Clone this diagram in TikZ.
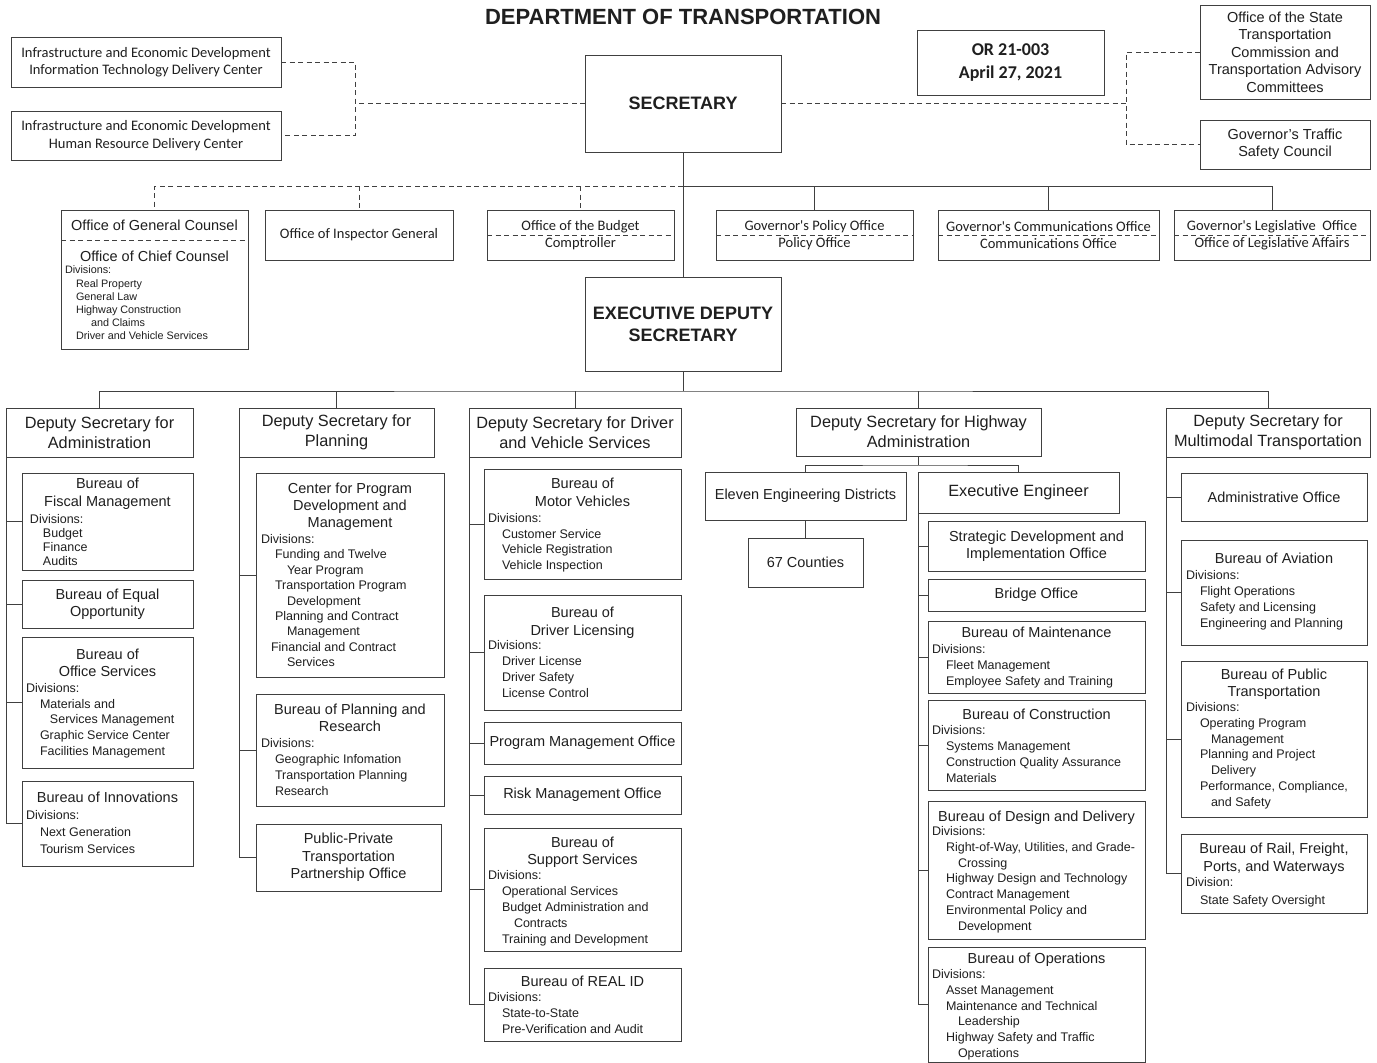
\documentclass[tikz,border=0pt]{standalone}
\usepackage{fontspec}
\setmainfont{Liberation Sans}
\newfontfamily\calib{Carlito}
\definecolor{ln}{gray}{0.25}
\definecolor{tx}{gray}{0.12}
\newcommand\fsz[2]{\fontsize{#1}{#2}\selectfont}
\newcommand\ia{\hspace*{14pt}}
\newcommand\ib{\hspace*{26pt}}
\newcommand\bx[7][]{\node[box,minimum width={#5-#3},minimum height={#6-#4},#1] (#2) at ({(#3+#5)/2},{(#4+#6)/2}) {#7};}
\begin{document}
\begin{tikzpicture}[x=1pt,y=-1pt,
  box/.style={draw=ln, line width=0.9pt, inner sep=0pt, outer sep=0pt, align=center, text=tx, font=\fsz{14.5}{17.5}},
  cal/.style={font=\calib\fsz{14.5}{17.5}},
  dep/.style={font=\fsz{16.3}{20}},
  ttl/.style={inner sep=0pt, outer sep=0pt, align=center, anchor=north, text=tx, font=\fsz{14.5}{17.5}},
  dvs/.style={inner sep=0pt, outer sep=0pt, align=left, anchor=north west, text=tx, font=\fsz{12.5}{15.7}},
  con/.style={draw=ln, line width=0.9pt},
  dsh/.style={con, dash pattern=on 5pt off 3.5pt}]
\fill[white] (0,0) rectangle (1377,1063);
\useasboundingbox (0,0) rectangle (1377,1063);

% ---------- header ----------
\node[font=\bfseries\fsz{22}{24}, text=tx, inner sep=0pt] (title) at (683,17) {DEPARTMENT OF TRANSPORTATION};
\bx[cal]{iedit}{11}{37}{281}{87}{Infrastructure and Economic Development\\Information Technology Delivery Center}
\bx[cal]{iedhr}{11}{111}{281}{160}{Infrastructure and Economic Development\\Human Resource Delivery Center}
\bx[font=\bfseries\fsz{18}{22}]{sec}{585}{55}{781}{152}{SECRETARY}
\bx[font=\calib\bfseries\fsz{18}{23}]{orb}{917}{30}{1104}{95}{OR 21-003\\April 27, 2021}
\bx{stc}{1200}{5}{1370}{99}{Office of the State\\Transportation\\Commission and\\Transportation Advisory\\Committees}
\bx[font=\fsz{14.5}{17}]{gtsc}{1200}{120}{1370}{169}{Governor's Traffic\\Safety Council}

% ---------- staff offices ----------
\bx{gc}{61}{210}{248}{349}{}
\node[ttl] (gca) at (154.5,219.6) {Office of General Counsel};
\node[ttl] (gcb) at (154.5,250.6) {Office of Chief Counsel};
\node[dvs, font=\fsz{10.8}{13.2}] (gcd) at (65,266) {Divisions:\\\hspace*{11pt}Real Property\\\hspace*{11pt}General Law\\\hspace*{11pt}Highway Construction\\\hspace*{26pt}and Claims\\\hspace*{11pt}Driver and Vehicle Services};
\bx[cal]{ig}{265}{210}{453}{260}{Office of Inspector General}
\bx[cal]{bud}{487}{210}{674}{260}{Office of the Budget\\Comptroller}
\bx[cal]{pol}{716}{210}{913}{260}{Governor's Policy Office\\Policy Office}
\bx[cal]{comm}{938}{210}{1159}{260}{Governor's Communications Office\\Communications Office}
\bx[cal]{leg}{1174}{210}{1370}{260}{Governor's Legislative\ \ Office\\Office of Legislative Affairs}

\bx[font=\bfseries\fsz{18}{22}]{eds}{585}{277}{781}{371}{EXECUTIVE DEPUTY\\SECRETARY}

% ---------- deputies ----------
\bx[dep]{dadm}{6}{408}{193}{457}{Deputy Secretary for\\Administration}
\bx[dep]{dpl}{239}{408}{434}{457}{Deputy Secretary for\\Planning}
\bx[dep]{ddv}{469}{408}{681}{457}{Deputy Secretary for Driver\\and Vehicle Services}
\bx[dep]{dhw}{796}{408}{1041}{456}{Deputy Secretary for Highway\\Administration}
\bx[dep]{dmm}{1166}{408}{1370}{457}{Deputy Secretary for\\Multimodal Transportation}

% ---------- administration ----------
\bx{fis}{22}{473}{193}{570}{}
\node[ttl, font=\fsz{14.5}{18}] (fist) at (107.5,477.6) {Bureau of\\Fiscal Management};
\node[dvs, font=\fsz{12.5}{14}] (fisd) at (30,514.4) {Divisions:\\\hspace*{13pt}Budget\\\hspace*{13pt}Finance\\\hspace*{13pt}Audits};
\bx[font=\fsz{14.5}{17}]{eqo}{22}{580}{193}{628}{Bureau of Equal\\Opportunity}
\bx{osv}{22}{637}{193}{768}{}
\node[ttl, font=\fsz{14.5}{17}] (osvt) at (107.5,648.6) {Bureau of\\Office Services};
\node[dvs, font=\fsz{12.5}{15.75}] (osvd) at (26,683.4) {Divisions:\\\ia Materials and\\\hspace*{24pt}Services Management\\\ia Graphic Service Center\\\ia Facilities Management};
\bx{inn}{22}{781}{193}{866}{}
\node[ttl] (innt) at (107.5,791.6) {Bureau of Innovations};
\node[dvs, font=\fsz{12.5}{17}] (innd) at (26,810.4) {Divisions:\\\ia Next Generation\\\ia Tourism Services};

% ---------- planning ----------
\bx{cpd}{256}{473}{444}{677}{}
\node[ttl, font=\fsz{14.5}{17}] (cpdt) at (350,482.6) {Center for Program\\Development and\\Management};
\node[dvs, font=\fsz{12.5}{15.4}] (cpdd) at (261,534.4) {Divisions:\\\ia Funding and Twelve\\\ib Year Program\\\ia Transportation Program\\\ib Development\\\ia Planning and Contract\\\ib Management\\\hspace*{10pt}Financial and Contract\\\ib Services};
\bx{bpr}{256}{694}{444}{806}{}
\node[ttl, font=\fsz{14.5}{17}] (bprt) at (350,703.6) {Bureau of Planning and\\Research};
\node[dvs, font=\fsz{12.5}{16}] (bprd) at (261,738.4) {Divisions:\\\ia Geographic Infomation\\\ia Transportation Planning\\\ia Research};
\bx{ppp}{256}{824}{441}{891}{Public-Private\\Transportation\\Partnership Office}

% ---------- driver and vehicle ----------
\bx{bmv}{484}{469}{681}{579}{}
\node[ttl, font=\fsz{14.5}{18}] (bmvt) at (582.5,477.6) {Bureau of\\Motor Vehicles};
\node[dvs] (bmvd) at (488,513.4) {Divisions:\\\ia Customer Service\\\ia Vehicle Registration\\\ia Vehicle Inspection};
\bx{bdl}{484}{595}{681}{710}{}
\node[ttl, font=\fsz{14.5}{18}] (bdlt) at (582.5,606.6) {Bureau of\\Driver Licensing};
\node[dvs, font=\fsz{12.5}{16}] (bdld) at (488,640.4) {Divisions:\\\ia Driver License\\\ia Driver Safety\\\ia License Control};
\bx{pmo}{484}{722}{681}{764}{Program Management Office}
\bx{rmo}{484}{776}{681}{814}{Risk Management Office}
\bx{bss}{484}{828}{681}{951}{}
\node[ttl, font=\fsz{14.5}{17}] (bsst) at (582.5,836.6) {Bureau of\\Support Services};
\node[dvs, font=\fsz{12.5}{16}] (bssd) at (488,870.4) {Divisions:\\\ia Operational Services\\\ia Budget Administration and\\\ib Contracts\\\ia Training and Development};
\bx{rid}{484}{968}{681}{1041}{}
\node[ttl] (ridt) at (582.5,975.6) {Bureau of REAL ID};
\node[dvs, font=\fsz{12.5}{16}] (ridd) at (488,992.4) {Divisions:\\\ia State-to-State\\\ia Pre-Verification and Audit};

% ---------- highway ----------
\bx{eld}{705}{472}{906}{520}{Eleven Engineering Districts}
\bx{cty}{748}{538}{863}{587}{67 Counties}
\bx[dep]{exe}{918}{472}{1119}{513}{Executive Engineer}
\bx[font=\fsz{14.5}{17}]{sdi}{928}{521}{1145}{571}{Strategic Development and\\Implementation Office}
\bx{brg}{928}{579}{1145}{611}{Bridge Office}
\bx{bma}{928}{621}{1145}{693}{}
\node[ttl] (bmat) at (1036.5,626.6) {Bureau of Maintenance};
\node[dvs, font=\fsz{12.5}{16}] (bmad) at (932,644.4) {Divisions:\\\ia Fleet Management\\\ia Employee Safety and Training};
\bx{bco}{928}{700}{1145}{790}{}
\node[ttl] (bcot) at (1036.5,708.6) {Bureau of Construction};
\node[dvs, font=\fsz{12.5}{16}] (bcod) at (932,725.4) {Divisions:\\\ia Systems Management\\\ia Construction Quality Assurance\\\ia Materials};
\bx{bdd}{928}{801}{1145}{939}{}
\node[ttl] (bddt) at (1036.5,810.6) {Bureau of Design and Delivery};
\node[dvs, font=\fsz{12.5}{15.8}] (bddd) at (932,826.4) {Divisions:\\\ia Right-of-Way, Utilities, and Grade-\\\ib Crossing\\\ia Highway Design and Technology\\\ia Contract Management\\\ia Environmental Policy and\\\ib Development};
\bx{bop}{928}{947}{1145}{1062}{}
\node[ttl] (bopt) at (1036.5,952.6) {Bureau of Operations};
\node[dvs, font=\fsz{12.5}{15.8}] (bopd) at (932,969.4) {Divisions:\\\ia Asset Management\\\ia Maintenance and Technical\\\ib Leadership\\\ia Highway Safety and Traffic\\\ib Operations};

% ---------- multimodal ----------
\bx{aof}{1181}{473}{1367}{521}{Administrative Office}
\bx{bav}{1181}{540}{1367}{645}{}
\node[ttl] (bavt) at (1274,552.6) {Bureau of Aviation};
\node[dvs, font=\fsz{12.5}{16}] (bavd) at (1186,570.4) {Divisions:\\\ia Flight Operations\\\ia Safety and Licensing\\\ia Engineering and Planning};
\bx{bpt}{1181}{661}{1367}{817}{}
\node[ttl, font=\fsz{14.5}{17}] (bptt) at (1274,668.6) {Bureau of Public\\Transportation};
\node[dvs, font=\fsz{12.5}{15.8}] (bptd) at (1186,702.4) {Divisions:\\\ia Operating Program\\\hspace*{25pt}Management\\\ia Planning and Project\\\hspace*{25pt}Delivery\\\ia Performance, Compliance,\\\hspace*{25pt}and Safety};
\bx{brf}{1181}{834}{1367}{913}{}
\node[ttl, font=\fsz{14.5}{18}] (brft) at (1274,842.6) {Bureau of Rail, Freight,\\Ports, and Waterways};
\node[dvs, font=\fsz{12.5}{18}] (brfd) at (1186,877.4) {Division:\\\ia State Safety Oversight};

% ---------- inner dashed separators ----------
\draw[dsh] (gc.west |- 0,240) -- (gc.east |- 0,240);
\draw[dsh] (bud.west) -- (bud.east);
\draw[dsh] (pol.west) -- (pol.east);
\draw[dsh] (comm.west) -- (comm.east);
\draw[dsh] (leg.west) -- (leg.east);

% ---------- connectors: top ----------
\coordinate (lj) at (355,103.5);
\coordinate (rj) at (1126,103.5);
\draw[dsh] (sec.west) -- (lj);
\draw[dsh] (iedit.east) -| (lj) |- (iedhr.east);
\draw[dsh] (sec.east) -- (rj);
\draw[dsh] (stc.west) -| (rj) |- (gtsc.west);
\draw[con] (sec.south) -- (eds.north);
\coordinate (j1) at (683,186);
\draw[dsh] (j1) -- (j1 -| gc.north) -- (gc.north);
\draw[dsh] (ig.north |- j1) -- (ig.north);
\draw[dsh] (bud.north |- j1) -- (bud.north);
\draw[con] (j1) -| (leg.north);
\draw[con] (pol.north |- j1) -- (pol.north);
\draw[con] (comm.north |- j1) -- (comm.north);

% ---------- connectors: deputies ----------
\coordinate (j2) at (683,391);
\draw[con] (eds.south) -- (j2);
\draw[con] (dadm.north) |- (j2) -| (dmm.north);
\draw[con] (dpl.north |- j2) -- (dpl.north);
\draw[con] (ddv.north |- j2) -- (ddv.north);
\draw[con] (dhw.north |- j2) -- (dhw.north);

% administration
\draw[con] (dadm.south west) |- (fis.west);
\draw[con] (dadm.south west) |- (eqo.west);
\draw[con] (dadm.south west) |- (osv.west);
\draw[con] (dadm.south west) |- (inn.west);
% planning
\draw[con] (dpl.south west) |- (cpd.west);
\draw[con] (dpl.south west) |- (bpr.west);
\draw[con] (dpl.south west) |- (ppp.west);
% driver and vehicle
\draw[con] (ddv.south west) |- (bmv.west);
\draw[con] (ddv.south west) |- (bdl.west);
\draw[con] (ddv.south west) |- (pmo.west);
\draw[con] (ddv.south west) |- (rmo.west);
\draw[con] (ddv.south west) |- (bss.west);
\draw[con] (ddv.south west) |- (rid.west);
% highway
\coordinate (j3) at (918.5,465);
\draw[con] (dhw.south) -- (j3);
\draw[con] (eld.north) |- (j3) -| (exe.north);
\draw[con] (eld.south) -- (cty.north);
\draw[con] (exe.south west) |- (sdi.west);
\draw[con] (exe.south west) |- (brg.west);
\draw[con] (exe.south west) |- (bma.west);
\draw[con] (exe.south west) |- (bco.west);
\draw[con] (exe.south west) |- (bdd.west);
\draw[con] (exe.south west) |- (bop.west);
% multimodal
\draw[con] (dmm.south west) |- (aof.west);
\draw[con] (dmm.south west) |- (bav.west);
\draw[con] (dmm.south west) |- (bpt.west);
\draw[con] (dmm.south west) |- (brf.west);
\end{tikzpicture}
\end{document}
